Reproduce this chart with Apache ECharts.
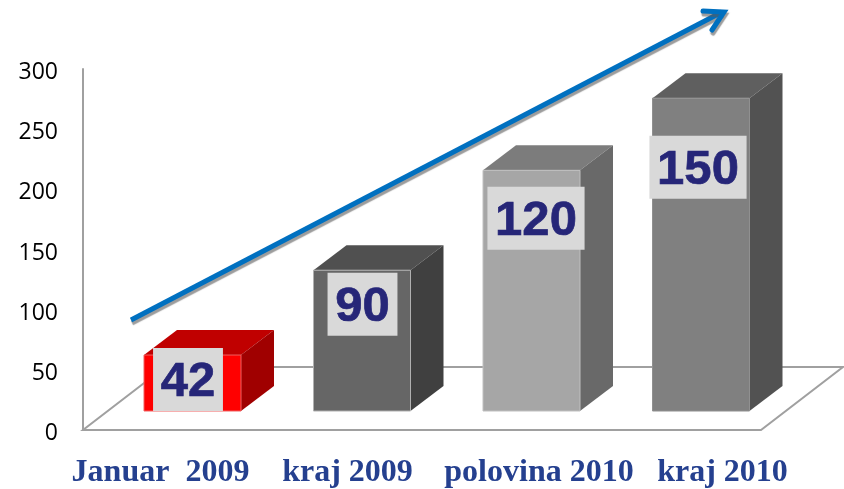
<!DOCTYPE html>
<html>
<head>
<meta charset="utf-8">
<style>
    html, body { margin: 0; padding: 0; background: #fff; }
    #main { width: 844px; height: 489px; }
</style>
<script src="https://cdn.jsdelivr.net/npm/echarts@6/dist/echarts.min.js"></script>
</head>
<body>
<div id="main"></div>
<script>
// podaci sa slike
let categories = ['Januar  2009', 'kraj 2009', 'polovina 2010', 'kraj 2010'];
let barValues = [46.5, 117, 200, 260];   // visina stubica na osi
let barLabels = ['42', '90', '120', '150'];   // natpisi u sivim poljima
let yTicks = [0, 50, 100, 150, 200, 250, 300];

// boje: prednja, gornja i bocna strana
let barColors = [
    { front: '#ff0000', top: '#c00000', side: '#a00000', edge: '#f06060' },
    { front: '#666666', top: '#505050', side: '#404040', edge: '#b0b0b0' },
    { front: '#a6a6a6', top: '#7c7c7c', side: '#696969', edge: '#c0c0c0' },
    { front: '#808080', top: '#5f5f5f', side: '#525252', edge: '#909090' }
];
// pomeraj sivog polja u odnosu na sredinu i vrh stubica
let boxShift = [[-4.5, 24.5], [0.5, 34], [4.5, 48], [-3, 69]];

let depthX = 33, depthY = 25;
let floorX = 82, floorY = 63;
let barWidth = 97;
let barShiftX = 24.75, baseShiftY = 19;
let boxHeight = 63, digitWidth = 27.25, boxPad = 15.4;

let catFont = {
    fontFamily: '"Liberation Serif", "Times New Roman", serif',
    fontWeight: 'bold',
    fontSize: 32,
    color: '#25408f'
};

let myChart = echarts.init(document.getElementById('main'));

function renderFloor(params, api) {
    let a = api.coord([0, 0]);
    let size = api.size([1, 0]);
    let left = a[0] - size[0] / 2;
    let right = left + size[0] * 4;
    let y = a[1];
    return {
        type: 'polygon',
        shape: { points: [[left, y], [right, y], [right + floorX, y - floorY], [left + floorX, y - floorY]] },
        style: { fill: '#fff', stroke: '#a0a0a0', lineWidth: 2 }
    };
}

function renderBar(params, api) {
    let i = params.dataIndex;
    let c = barColors[i];
    let top = api.coord([api.value(0), api.value(1)]);
    let base = api.coord([api.value(0), 0]);
    let x0 = top[0] + barShiftX - barWidth / 2;
    let x1 = x0 + barWidth;
    let y0 = top[1] - baseShiftY;
    let y1 = base[1] - baseShiftY;
    let bx = (x0 + x1) / 2 + boxShift[i][0];
    let by = y0 + boxShift[i][1];
    let bw = barLabels[i].length * digitWidth + boxPad;
    return {
        type: 'group',
        children: [
            {
                type: 'polygon',
                shape: { points: [[x0, y0], [x1, y0], [x1 + depthX, y0 - depthY], [x0 + depthX, y0 - depthY]] },
                style: { fill: c.top }
            },
            {
                type: 'polygon',
                shape: { points: [[x1, y0], [x1 + depthX, y0 - depthY], [x1 + depthX, y1 - depthY], [x1, y1]] },
                style: { fill: c.side }
            },
            {
                type: 'rect',
                shape: { x: x0, y: y0, width: barWidth, height: y1 - y0 },
                style: { fill: c.front, stroke: c.edge, lineWidth: 1 }
            },
            {
                type: 'rect',
                shape: { x: bx - bw / 2, y: by - boxHeight / 2, width: bw, height: boxHeight },
                style: { fill: '#d9d9d9' }
            },
            {
                type: 'text',
                x: bx,
                y: by + 3,
                style: {
                    text: barLabels[i],
                    font: 'bold 49px "Liberation Sans", Arial, sans-serif',
                    fill: '#262678',
                    stroke: '#262678',
                    lineWidth: 0.7,
                    align: 'center',
                    verticalAlign: 'middle'
                }
            }
        ]
    };
}

let option = {
    animation: false,
    backgroundColor: '#fff',
    grid: [
        { left: 83, top: 69, width: 678, height: 361 },
        { left: 67, top: 430, width: 748, height: 1 }
    ],
    xAxis: [
        {
            type: 'category',
            gridIndex: 0,
            data: categories,
            axisTick: { show: false },
            axisLabel: { show: false },
            axisLine: { show: false }
        },
        {
            type: 'category',
            gridIndex: 1,
            data: categories,
            axisTick: { show: false },
            axisLine: { show: false },
            axisLabel: Object.assign({
                interval: 0,
                margin: 26,
                // polovina i kraj 2010 su malo desno od pravilnog rasporeda
                formatter: function (value, index) {
                    if (index === 2) return '{p|' + value + '}';
                    if (index === 3) return '{k|' + value + '}';
                    return value;
                },
                rich: {
                    p: Object.assign({ padding: [0, 0, 0, 9] }, catFont),
                    k: Object.assign({ padding: [0, 0, 0, 2] }, catFont)
                }
            }, catFont)
        }
    ],
    yAxis: [
        {
            type: 'value',
            gridIndex: 0,
            min: yTicks[0],
            max: yTicks[yTicks.length - 1],
            interval: 50,
            splitLine: { show: false },
            axisTick: { show: false },
            axisLine: { show: true, lineStyle: { color: '#a0a0a0', width: 2 } },
            axisLabel: {
                margin: 25,
                formatter: '{t|{value}}',
                rich: {
                    t: {
                        padding: [7, 0, 0, 0],
                        fontFamily: '"Open Sans", sans-serif',
                        fontSize: 23,
                        color: '#000'
                    }
                }
            }
        },
        { type: 'value', gridIndex: 1, show: false }
    ],
    series: [
        {
            type: 'custom',
            xAxisIndex: 0,
            yAxisIndex: 0,
            renderItem: renderFloor,
            data: [[0, 0]],
            silent: true,
            z: 1
        },
        {
            type: 'custom',
            name: 'stubici',
            xAxisIndex: 0,
            yAxisIndex: 0,
            renderItem: renderBar,
            data: barValues.map(function (v, i) { return [i, v]; }),
            encode: { x: 0, y: 1 },
            z: 2
        },
        {
            type: 'line',
            xAxisIndex: 1,
            yAxisIndex: 1,
            data: [],
            silent: true
        }
    ],
    graphic: [
        {
            type: 'polyline',
            z: 100,
            shape: { points: [[131, 320], [722, 12]] },
            style: {
                stroke: '#0070c0', lineWidth: 5, fill: null,
                shadowColor: 'rgba(90,90,90,0.6)', shadowOffsetX: 1, shadowOffsetY: 3, shadowBlur: 1
            }
        },
        {
            type: 'polyline',
            z: 100,
            shape: { points: [[703, 11], [724, 12], [712, 30]] },
            style: {
                stroke: '#0070c0', lineWidth: 5, fill: null, lineCap: 'round', lineJoin: 'miter',
                shadowColor: 'rgba(90,90,90,0.6)', shadowOffsetX: 1, shadowOffsetY: 3, shadowBlur: 1
            }
        }
    ]
};

myChart.setOption(option);
</script>
</body>
</html>
